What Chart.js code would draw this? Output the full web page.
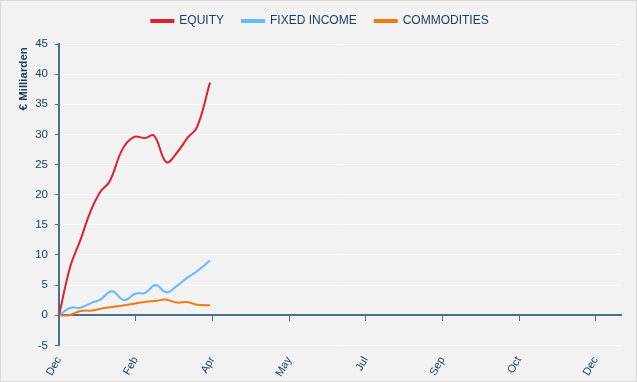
<!DOCTYPE html>
<html>
<head>
<meta charset="utf-8">
<script src="https://cdn.jsdelivr.net/npm/chart.js@4/dist/chart.umd.min.js"></script>
<style>
  html, body { margin: 0; padding: 0; background: #ffffff; }
  #wrap { width: 637px; height: 382px; box-sizing: border-box; border: 1px solid #d9d9d9; background: #f2f2f2; }
</style>
</head>
<body>
<div id="wrap"><canvas id="chart" width="635" height="380"></canvas></div>
<script>
// Achsenbeschriftung (gleichmäßig verteilte Ticks)
const tickLabels = ["Dec", "Feb", "Apr", "May", "Jul", "Sep", "Oct", "Dec"];

// Positionen in Tick-Einheiten (0 = erster Dec, 1 = Feb, ...)
const equityX = [0, 0.15, 0.28, 0.41, 0.54, 0.66, 0.83, 0.98, 1.12, 1.24, 1.40, 1.54, 1.68, 1.80, 1.97];
const equity  = [0, 8.2, 12.5, 17.2, 20.5, 22.2, 27.6, 29.6, 29.4, 29.8, 25.4, 27.0, 29.5, 31.2, 38.6];

const fixedX = [0, 0.15, 0.28, 0.43, 0.54, 0.69, 0.85, 1.00, 1.12, 1.26, 1.40, 1.53, 1.67, 1.80, 1.97];
const fixedIncome = [0, 1.25, 1.25, 2.1, 2.6, 4.0, 2.5, 3.6, 3.7, 5.0, 3.8, 4.8, 6.2, 7.3, 9.1];

const commX = [0, 0.13, 0.28, 0.43, 0.59, 0.76, 0.98, 1.13, 1.27, 1.39, 1.54, 1.67, 1.80, 1.97];
const commodities = [0, 0, 0.7, 0.8, 1.2, 1.5, 1.9, 2.25, 2.4, 2.6, 2.1, 2.2, 1.75, 1.65];

const yTicks = { min: -5, max: 45, step: 5 };
const xMax = 7.33;

const axisColor = "#4a7191";
const textColor = "#1f3f60";

function pts(xs, ys) {
  return ys.map((v, i) => ({ x: xs[i], y: v }));
}

function fixTicks(scale) {
  scale.ticks = tickLabels.map((_, i) => ({ value: i }));
}

// etwas mehr Abstand unter der Legende
const legendGap = {
  id: "legendGap",
  beforeInit(chart) {
    const fit = chart.legend.fit;
    chart.legend.fit = function () {
      fit.bind(chart.legend)();
      this.height += 7;
    };
  }
};

Chart.defaults.font.family = "'Liberation Sans', Arial, sans-serif";
Chart.defaults.color = textColor;

new Chart(document.getElementById("chart"), {
  type: "line",
  data: {
    datasets: [
      { label: "EQUITY", data: pts(equityX, equity), borderColor: "#e0202e", backgroundColor: "#e0202e" },
      { label: "FIXED INCOME", data: pts(fixedX, fixedIncome), borderColor: "#66b8ff", backgroundColor: "#66b8ff" },
      { label: "COMMODITIES", data: pts(commX, commodities), borderColor: "#f07a12", backgroundColor: "#f07a12" }
    ]
  },
  plugins: [legendGap],
  options: {
    responsive: false,
    animation: false,
    layout: { padding: { left: 18, right: 15, top: -4, bottom: -7 } },
    elements: {
      point: { radius: 0 },
      line: { borderWidth: 2, tension: 0.4 }
    },
    plugins: {
      legend: {
        labels: { boxWidth: 22, boxHeight: 2, font: { size: 12 }, padding: 18 }
      },
      tooltip: { enabled: false }
    },
    scales: {
      x: {
        type: "linear",
        min: 0,
        max: xMax,
        afterBuildTicks: fixTicks,
        grid: { display: false, drawTicks: false },
        border: { display: false },
        ticks: {
          minRotation: 60,
          maxRotation: 60,
          font: { size: 11 },
          padding: 9,
          callback: (v) => tickLabels[v]
        }
      },
      x2: {
        type: "linear",
        position: { y: 0 },
        min: 0,
        max: xMax,
        afterBuildTicks: fixTicks,
        ticks: { display: false },
        grid: { drawOnChartArea: false, tickColor: axisColor, tickLength: 5, tickWidth: 1 },
        border: { color: axisColor, width: 2 }
      },
      y: {
        min: yTicks.min,
        max: yTicks.max,
        ticks: { stepSize: yTicks.step, font: { size: 11.5 }, padding: 7 },
        grid: { color: "#fbfbfb", lineWidth: 1, tickColor: axisColor, tickLength: 4 },
        border: { color: axisColor, width: 2 },
        title: {
          display: true,
          text: "€ Milliarden ",
          align: "end",
          font: { size: 11.5, weight: "bold", lineHeight: 0.8 },
          padding: { top: 0, bottom: 0 }
        }
      }
    }
  }
});
</script>
</body>
</html>
